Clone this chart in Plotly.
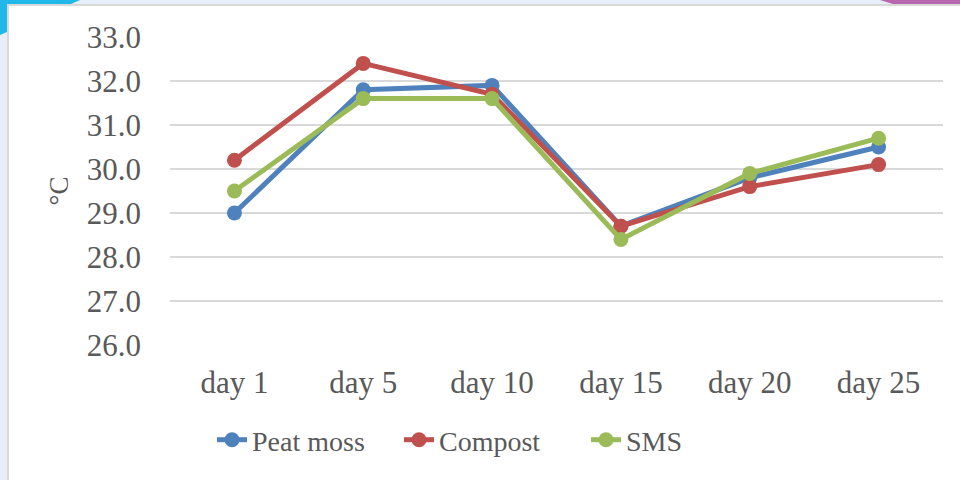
import plotly.graph_objects as go

# ─────────────────────────────────────────
# DATA
# ─────────────────────────────────────────

days      = ["day 1", "day 5", "day 10", "day 15", "day 20", "day 25"]
peat_moss = [29.0, 31.8, 31.9, 28.7, 29.8, 30.5]
compost   = [30.2, 32.4, 31.7, 28.7, 29.6, 30.1]
sms       = [29.5, 31.6, 31.6, 28.4, 29.9, 30.7]

SERIES = [
    ("Peat moss", peat_moss, "#4F81BD"),
    ("Compost",   compost,   "#C0504D"),
    ("SMS",       sms,       "#9BBB59"),
]

FONT = "Liberation Serif, Times New Roman, serif"
TEXT = "#595959"

# plot area in pixels, used to place the decorative frame
W, H = 960, 480
L, R, T, B = 170, 17, 37, 135
PW, PH = W - L - R, H - T - B


def px_x(x):
    return (x - L) / PW


def px_y(y):
    return (H - B - y) / PH


fig = go.Figure()

for name, values, color in SERIES:
    fig.add_trace(go.Scatter(
        x      = days,
        y      = values,
        mode   = "lines+markers",
        name   = name,
        line   = dict(color=color, width=5),
        marker = dict(size=15, color=color),
    ))

# ─────────────────────────────────────────
# Background: slide-like frame round a white panel
# ─────────────────────────────────────────
shapes = [
    dict(type="rect", xref="paper", yref="paper", layer="below",
         x0=px_x(0), x1=px_x(W), y0=px_y(0), y1=px_y(H),
         fillcolor="#E6EEF7", line_width=0),
    dict(type="path", xref="paper", yref="paper", layer="below",
         path=(f"M {px_x(0)},{px_y(0)} L {px_x(80)},{px_y(0)} "
               f"L {px_x(0)},{px_y(35)} Z"),
         fillcolor="#1FB8E8", line_width=0),
    dict(type="path", xref="paper", yref="paper", layer="below",
         path=(f"M {px_x(880)},{px_y(0)} L {px_x(W)},{px_y(0)} "
               f"L {px_x(W)},{px_y(25)} Z"),
         fillcolor="#B866B0", line_width=0),
    dict(type="rect", xref="paper", yref="paper", layer="below",
         x0=px_x(8), x1=px_x(W + 5), y0=px_y(5), y1=px_y(H + 5),
         fillcolor="white", line=dict(color="#D9D9D9", width=2)),
]

fig.update_layout(
    width  = W,
    height = H,
    margin = dict(l=L, r=R, t=T, b=B),
    paper_bgcolor = "#E6EEF7",
    plot_bgcolor  = "white",
    font   = dict(family=FONT, size=28, color=TEXT),
    shapes = shapes,
    showlegend = True,
    legend = dict(
        orientation    = "h",
        x              = px_x(212),
        xanchor        = "left",
        y              = px_y(440),
        yanchor        = "middle",
        entrywidth     = 142,
        entrywidthmode = "pixels",
        font           = dict(family=FONT, size=28, color=TEXT),
        bgcolor        = "rgba(0,0,0,0)",
    ),
    xaxis = dict(
        range     = [-0.5, 5.5],
        showgrid  = False,
        showline  = False,
        zeroline  = False,
        ticks     = "",
        ticklabelstandoff = 16,
        tickfont  = dict(family=FONT, size=31, color=TEXT),
    ),
    yaxis = dict(
        range     = [26, 33],
        dtick     = 1,
        tickformat = ".1f",
        showgrid  = True,
        gridcolor = "#D9D9D9",
        gridwidth = 1.5,
        zeroline  = False,
        showline  = False,
        ticks     = "",
        ticklabelstandoff = 28,
        tickfont  = dict(family=FONT, size=31, color=TEXT),
        title     = dict(text="°C", standoff=10,
                         font=dict(family=FONT, size=27, color=TEXT)),
    ),
)

fig.write_html(
    "out.html",
    config={"displayModeBar": False},
    post_script="document.body.style.margin='0';",
)
